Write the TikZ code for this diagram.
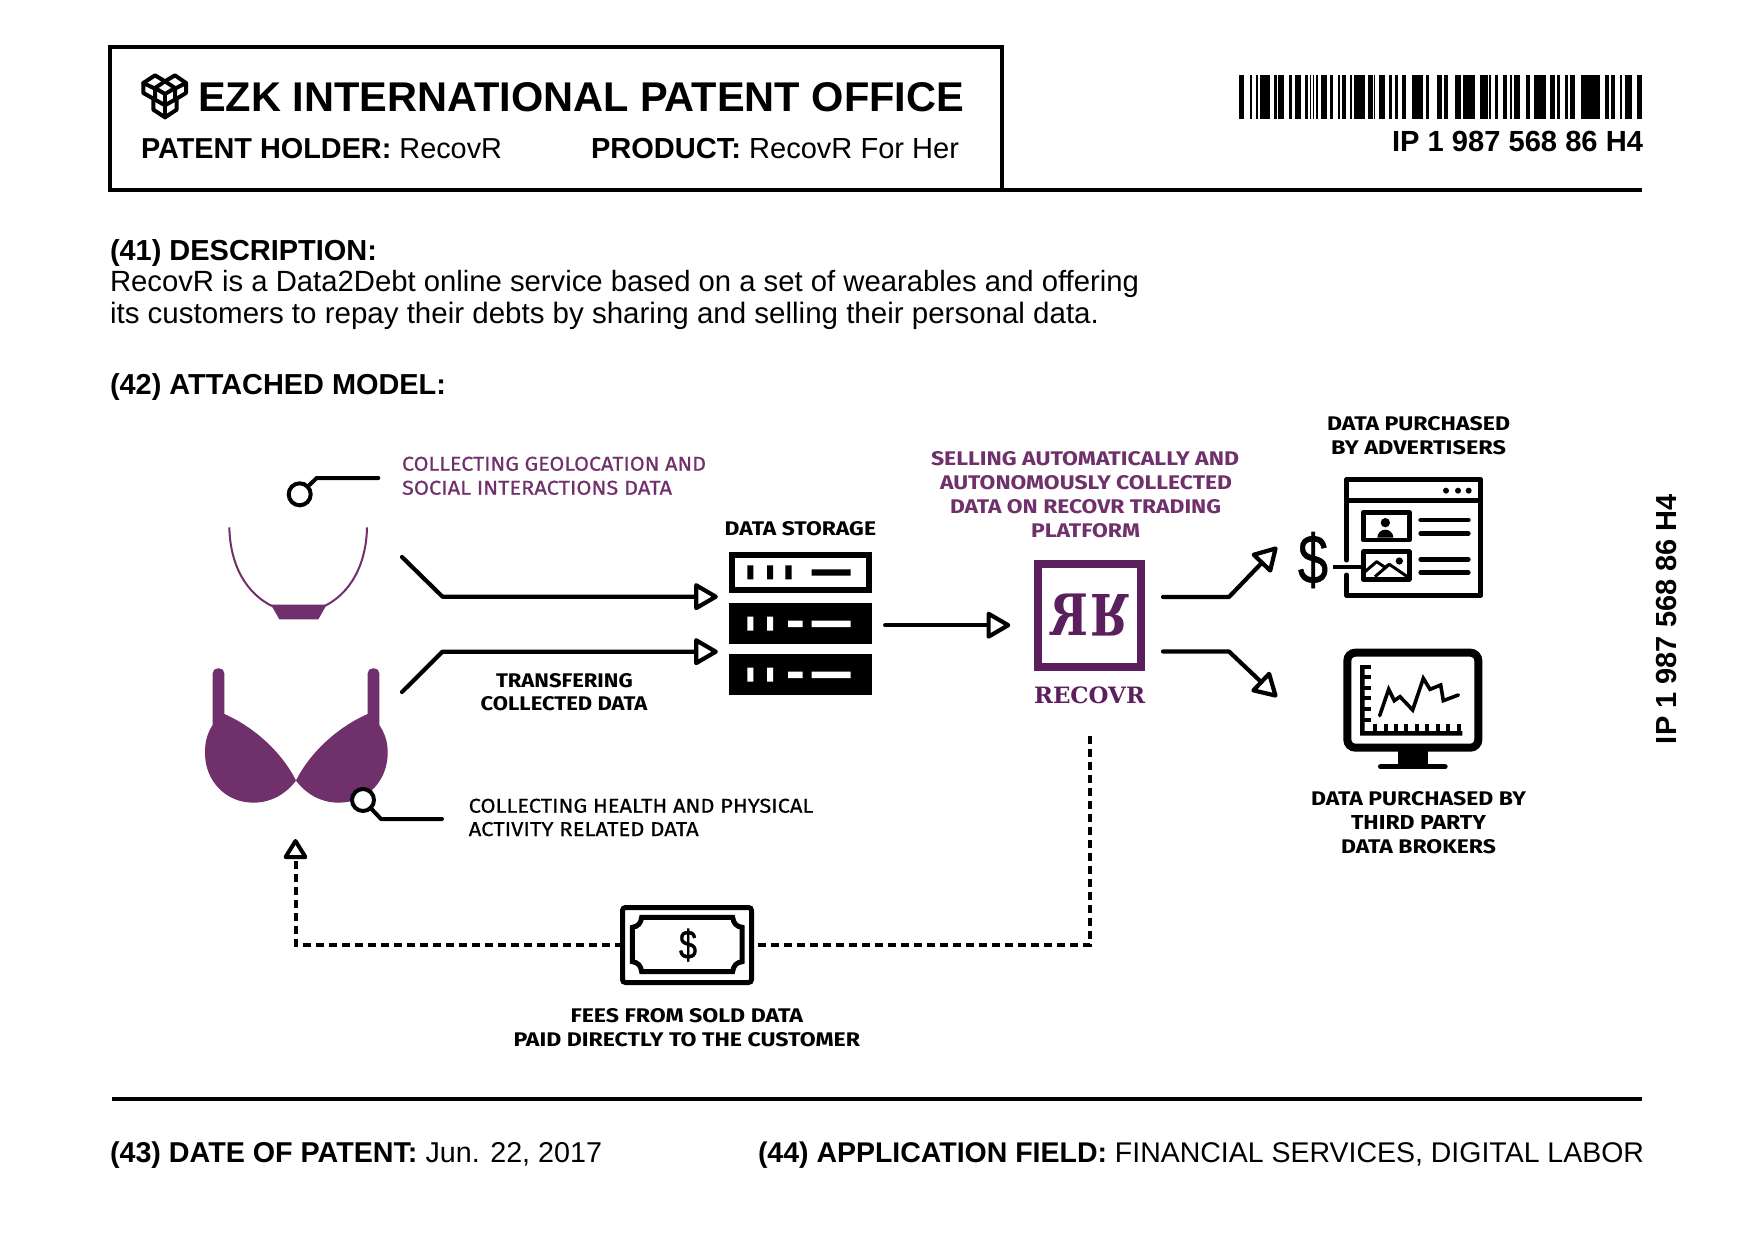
\documentclass[tikz,border=0pt]{standalone}
\usepackage{fontspec}
\usepackage{graphicx}
\usetikzlibrary{arrows.meta}
\setmainfont{Liberation Sans}
\newfontfamily\techfont[FakeBold=0.5]{Fira Sans}
\newfontfamily\techbold{Fira Sans}
\newfontfamily\slabfont{DejaVu Serif}
\newfontfamily\signfont[FakeBold=1]{Liberation Sans}
\definecolor{plum}{HTML}{70306B}
\definecolor{logoplum}{HTML}{5B1F5D}
\newcommand\hv[3]{\resizebox{#1pt}{!}{\fontsize{#2}{#2}\selectfont #3}}
\newcommand\tk[3]{\resizebox{#1pt}{#2pt}{\techfont\fontsize{20}{20}\selectfont #3}}
\newcommand\tkb[3]{\resizebox{#1pt}{#2pt}{\techbold\bfseries\fontsize{20}{20}\selectfont #3}}
\tikzset{
  lab/.style={anchor=base west,inner sep=0pt,outer sep=0pt},
  rule/.style={line width=4pt,line cap=butt},
  flow/.style={line width=4.2pt,line join=round,line cap=round,-{Triangle[open,length=26pt,width=29pt,round,fill=white]}},
  link/.style={line width=4pt,line join=round,line cap=round},
  dashflow/.style={line width=4pt,dash pattern=on 8pt off 5pt},
  ico/.style={line width=4.6pt,line join=round,line cap=round},
  ringnode/.style={circle,draw=black,fill=white,line width=4pt,minimum size=22pt,inner sep=0pt,outer sep=0pt},
  ghost/.style={inner sep=0pt,outer sep=0pt}
}
\begin{document}
\begin{tikzpicture}[x=1pt,y=-1pt]
\useasboundingbox (0,0) rectangle (1754,1241);
\fill[white] (0,0) rectangle (1754,1241);
% header
\node[ghost,draw=black,line width=4.4pt,minimum width=892pt,minimum height=143pt,anchor=north west] (headerbox) at (110,47) {};
\coordinate (rulea) at (headerbox.south east);
\coordinate (ruleb) at (1642,190);
\draw[rule] (rulea) -- (ruleb);
\begin{scope}[shift={(135,68)},scale=1/3,line width=4pt,line join=round,line cap=round]
 \draw (25,45) -- (60,22) -- (90,40) -- (120,22) -- (153,45) -- (153,75) -- (125,92) -- (125,125) -- (90,148) -- (55,125) -- (55,92) -- (25,75) -- cycle;
 \draw (90,40) -- (60,60) -- (90,78) -- (120,60) -- cycle;
 \draw (25,45) -- (60,62) -- (60,90);
 \draw (153,45) -- (120,62) -- (120,90);
 \draw (90,78) -- (90,148);
 \draw (55,92) -- (90,112) -- (125,92);
\end{scope}
\node[lab] (title) at (198,112) {\hv{766}{41}{\bfseries EZK INTERNATIONAL PATENT OFFICE}};
\node[lab] (holder) at (141,158.3) {\hv{361}{27}{\textbf{PATENT HOLDER:} RecovR}};
\node[lab] (product) at (591,158.3) {\hv{368}{27}{\textbf{PRODUCT:} RecovR For Her}};
% barcode
\foreach \a/\b in {13/28,45/50,62/70,74/104,118/125,130/146,163/170,180/197,211/218,224/228,233/238,242/248,258/277,286/293,308/316,320/332,345/352,358/390,400/405}
  \fill ({1235+\a/3},75) rectangle ({1235+\b/3},119);
\foreach \a/\b in {0/8,12/16,26/44,58/65,76/85,95/108,125/158,168/178,200/215,222/235,255/272,280/315,330/355,358/362,375/385,400/405}
  \fill ({1370+\a/3},75) rectangle ({1370+\b/3},119);
\foreach \a/\b in {0/5,15/22,28/45,62/75,88/122,135/150,155/165,180/190,195/210,228/285,300/312,318/330,345/352,360/380,395/412}
  \fill ({1505+\a/3},75) rectangle ({1505+\b/3},119);
\node[lab] (ipcode) at (1392,152) {\hv{251}{28}{\bfseries IP 1 987 568 86 H4}};
\node[lab,rotate=90] (ipside) at (1676,744) {\hv{250}{28}{\bfseries IP 1 987 568 86 H4}};
% description
\node[lab] (desc) at (110,260.5) {\hv{267}{28}{\bfseries (41) DESCRIPTION:}};
\node[lab] (d1) at (110,292) {\hv{1029}{28}{RecovR is a Data2Debt online service based on a set of wearables and offering}};
\node[lab] (d2) at (110,323.3) {\hv{989}{28}{its customers to repay their debts by sharing and selling their personal data.}};
\node[lab] (model) at (110,394.5) {\hv{336}{28}{\bfseries (42) ATTACHED MODEL:}};
% footer
\coordinate (rulec) at (112,1099);
\coordinate (ruled) at (1642,1099);
\draw[rule] (rulec) -- (ruled);
\node[lab] (f1) at (110,1162) {\hv{492}{28}{\textbf{(43) DATE OF PATENT:} Jun. 22, 2017}};
\node[lab] (f2) at (758,1162) {\hv{886}{28}{\textbf{(44) APPLICATION FIELD:} FINANCIAL SERVICES, DIGITAL LABOR}};
% garments
\begin{scope}[shift={(190,450)},scale=1/3]
 \draw[plum,line width=2pt] (118,232) .. controls (120,340) and (165,430) .. (250,470);
 \draw[plum,line width=2pt] (531,232) .. controls (529,340) and (484,430) .. (400,470);
 \fill[plum] (243,464) -- (410,464) -- (385,508) -- (268,508) -- cycle;
 \fill[plum,rounded corners=5pt] (68,840) -- (68,655) -- (103,655) -- (103,840) -- cycle;
 \fill[plum,rounded corners=5pt] (533,840) -- (533,655) -- (568,655) -- (568,840) -- cycle;
 \fill[plum] (103,792) .. controls (190,830) and (275,905) .. (318,992) .. controls (285,1035) and (240,1058) .. (190,1058) .. controls (105,1058) and (43,990) .. (45,905) .. controls (45,870) and (55,845) .. (68,825) -- cycle;
 \fill[plum] (533,792) .. controls (446,830) and (361,905) .. (318,992) .. controls (351,1035) and (396,1058) .. (446,1058) .. controls (533,1058) and (595,990) .. (593,905) .. controls (593,870) and (581,845) .. (568,825) -- cycle;
\end{scope}
\node[ringnode] (ringa) at (299.7,494.3) {};
\coordinate (ringaelbow) at (316.7,478);
\coordinate (ringaend) at (378.3,478);
\draw[link] (ringa) -- (ringaelbow) -- (ringaend);
\node[ringnode] (ringb) at (363,800) {};
\coordinate (ringbelbow) at (381,819);
\coordinate (ringbend) at (442,819);
\draw[link] (ringb) -- (ringbelbow) -- (ringbend);
% servers
\node[ghost,minimum width=143.3pt,minimum height=143.3pt] (servers) at (800.5,623.7) {};
\begin{scope}[shift={(710,510)},scale=1/3]
 \draw[line width=6pt] (66,135) rectangle (477,239);
 \fill (112,166) rectangle (130,208) (171,166) rectangle (189,208) (226,166) rectangle (245,208) (305,178) rectangle (422,197);
 \foreach \o in {0,153}{
  \fill (57,{280+\o}) rectangle (486,{402+\o});
  \fill[white] (112,{320+\o}) rectangle (130,{362+\o}) (171,{320+\o}) rectangle (189,{362+\o}) (234,{332+\o}) rectangle (278,{351+\o}) (305,{332+\o}) rectangle (422,{351+\o});
 }
\end{scope}
% logo
\node[ghost,draw=logoplum,text=logoplum,line width=8pt,minimum size=103pt] (logo) at (1089.8,615) {\resizebox{79pt}{41.6pt}{\slabfont\bfseries\reflectbox{R}\kern 0.05em\rotatebox[origin=c]{180}{\reflectbox{R}}}};
\node[lab,text=logoplum] (recovr) at (1034,703.3) {\resizebox{111pt}{16.7pt}{\slabfont\bfseries RECOVR}};
% connectors
\coordinate (ina) at (402,557);
\coordinate (inaelbow) at (442.5,596.7);
\coordinate (inb) at (402,692);
\coordinate (inbelbow) at (442.5,651.7);
\draw[flow,shorten >=11pt] (ina) -- (inaelbow) -- (servers.west |- inaelbow);
\draw[flow,shorten >=11pt] (inb) -- (inbelbow) -- (servers.west |- inbelbow);
\draw[flow,shorten <=13pt,shorten >=28pt] ([yshift=-1.5pt]servers.east) -- ([yshift=-1.5pt]servers.east -| logo.west);
\coordinate (outa) at (1163,597);
\coordinate (outaelbow) at (1229,597);
\coordinate (outatip) at (1277,547);
\coordinate (outb) at (1163,651.5);
\coordinate (outbelbow) at (1229,651.5);
\coordinate (outbtip) at (1277,697);
\draw[flow] (outa) -- (outaelbow) -- (outatip);
\draw[flow] (outb) -- (outbelbow) -- (outbtip);
% browser icon
\begin{scope}[shift={(1150,460)},scale=1/3]
 \draw[line width=5pt,line join=round,line cap=round] (590,300) -- (590,58) -- (992,58) -- (992,406) -- (590,406) -- (590,345);
 \draw[line width=5pt] (590,122) -- (992,122);
 \fill (888,92) circle (9) (924,92) circle (9) (956,92) circle (9);
 \draw[ico] (640,157) rectangle (778,240);
 \fill (706,188) circle (14);
 \fill (682,233) arc[start angle=180,end angle=360,radius=24] -- cycle;
 \draw[ico] (640,275) rectangle (778,358);
 \fill (748,303) circle (11);
 \draw[line width=3pt,line join=round] (645,335) -- (680,305) -- (705,322) -- (718,313) -- (772,350);
 \draw[line width=3pt,line join=round] (675,350) -- (718,313);
 \foreach \yy in {180,220,298,338} \draw[ico] (812,\yy) -- (955,\yy);
 \draw[line width=4pt] (550,320) -- (640,320);
\end{scope}
\node[ghost] (dollar) at (1313,560) {\resizebox*{30pt}{56pt}{\signfont\fontsize{65}{65}\selectfont \$}};
% monitor icon
\begin{scope}[shift={(1150,460)},scale=1/3]
 \draw[line width=8pt,rounded corners=8pt] (592,578) rectangle (985,863);
 \fill (745,870) rectangle (833,915);
 \draw[line width=5.4pt,line cap=round] (692,920) -- (885,920);
 \fill (630,615) rectangle (644,827) (630,813) rectangle (937,827);
 \foreach \yy in {622,652,683,715,748,780} \fill (640,{\yy-6}) rectangle (664,{\yy+6});
 \foreach \xx in {675,707,738,769,800,832,863,895,926} \fill ({\xx-6},793) rectangle ({\xx+6},820);
 \draw[line width=3.6pt,line join=miter,line cap=round] (689,767) -- (716,688) -- (733,722) -- (750,710) -- (788,750) -- (820,655) -- (840,688) -- (872,675) -- (880,722) -- (925,705);
\end{scope}
% bill
\node[ghost,draw=black,line width=5pt,rounded corners=3pt,minimum width=129pt,minimum height=75pt] (bill) at (687,945) {};
\begin{scope}[shift={(590,890)},scale=1/3]
 \draw[line width=5pt,line join=miter] (155,82) -- (428,82) .. controls (430,100) and (440,110) .. (456,112) -- (456,215) .. controls (440,217) and (430,227) .. (428,245) -- (155,245) .. controls (153,227) and (143,217) .. (127,215) -- (127,112) .. controls (143,110) and (153,100) .. (155,82) -- cycle;
\end{scope}
\node[ghost] (billsign) at (688,945) {\resizebox*{18pt}{33pt}{\signfont\fontsize{38}{38}\selectfont \$}};
\coordinate (braend) at (295.5,839);
\draw[dashflow,shorten <=32pt] (recovr.south) |- (bill.east);
\draw[dashflow,-{Triangle[open,length=22pt,width=26pt,round,fill=white]}] (bill.west) -| (braend);
% labels
\node[lab,text=plum] (t1) at (402,470.7) {\tk{304}{14}{COLLECTING GEOLOCATION AND}};
\node[lab,text=plum] (t2) at (402,494.7) {\tk{270}{14}{SOCIAL INTERACTIONS DATA}};
\node[lab] (t3) at (724.7,535) {\tkb{151.3}{14}{DATA STORAGE}};
\node[lab] (t4) at (496,687.7) {\tkb{136.7}{14}{TRANSFERING}};
\node[lab] (t5) at (480.7,710) {\tkb{166.6}{14}{COLLECTED DATA}};
\node[lab] (t6) at (468.7,812.7) {\tk{344.6}{14}{COLLECTING HEALTH AND PHYSICAL}};
\node[lab] (t7) at (468.7,836) {\tk{230}{14}{ACTIVITY RELATED DATA}};
\node[lab,text=plum] (t8) at (931,465) {\tkb{308}{14}{SELLING AUTOMATICALLY AND}};
\node[lab,text=plum] (t9) at (940,489) {\tkb{292}{14}{AUTONOMOUSLY COLLECTED}};
\node[lab,text=plum] (t10) at (950,513) {\tkb{271}{14}{DATA ON RECOVR TRADING}};
\node[lab,text=plum] (t11) at (1031,537) {\tkb{109}{14}{PLATFORM}};
\node[lab] (t12) at (1327,430) {\tkb{183}{14}{DATA PURCHASED}};
\node[lab] (t13) at (1331,454) {\tkb{175}{14}{BY ADVERTISERS}};
\node[lab] (t14) at (1311,805) {\tkb{215}{14}{DATA PURCHASED BY}};
\node[lab] (t15) at (1351,829) {\tkb{135}{14}{THIRD PARTY}};
\node[lab] (t16) at (1341,853) {\tkb{155}{14}{DATA BROKERS}};
\node[lab] (t17) at (570.5,1022.5) {\tkb{232.5}{14}{FEES FROM SOLD DATA}};
\node[lab] (t18) at (513.5,1046.5) {\tkb{346.5}{14}{PAID DIRECTLY TO THE CUSTOMER}};
\end{tikzpicture}
\end{document}
